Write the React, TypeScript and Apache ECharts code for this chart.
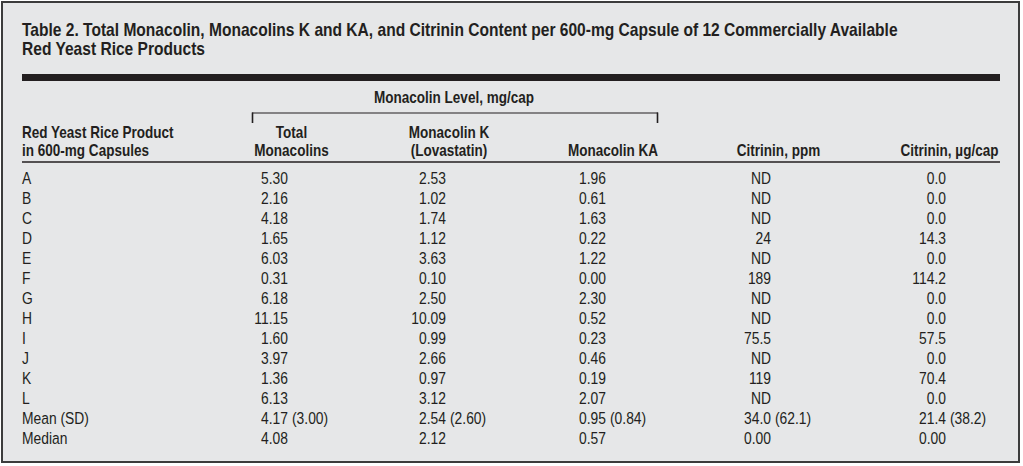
import React, { useEffect, useRef } from "react";
import * as echarts from "echarts";

// ---- data ----
const titleLines = [
  "Table 2. Total Monacolin, Monacolins K and KA, and Citrinin Content per 600-mg Capsule of 12 Commercially Available",
  "Red Yeast Rice Products",
];
const groupHeader = "Monacolin Level, mg/cap";
const firstHeader = ["Red Yeast Rice Product", "in 600-mg Capsules"];
const columnHeaders: string[][] = [
  ["Total", "Monacolins"],
  ["Monacolin K", "(Lovastatin)"],
  ["Monacolin KA"],
  ["Citrinin, ppm"],
  ["Citrinin, \u00b5g/cap"],
];
const products = ["A", "B", "C", "D", "E", "F", "G", "H", "I", "J", "K", "L"];
const totalMonacolins = [5.3, 2.16, 4.18, 1.65, 6.03, 0.31, 6.18, 11.15, 1.6, 3.97, 1.36, 6.13];
const monacolinK = [2.53, 1.02, 1.74, 1.12, 3.63, 0.1, 2.5, 10.09, 0.99, 2.66, 0.97, 3.12];
const monacolinKA = [1.96, 0.61, 1.63, 0.22, 1.22, 0.0, 2.3, 0.52, 0.23, 0.46, 0.19, 2.07];
const citrininPpm: (number | null)[] = [null, null, null, 24, null, 189, null, null, 75.5, null, 119, null];
const citrininUgCap = [0.0, 0.0, 0.0, 14.3, 0.0, 114.2, 0.0, 0.0, 57.5, 0.0, 70.4, 0.0];
const summaryLabels = ["Mean (SD)", "Median"];
const means = ["4.17", "2.54", "0.95", "34.0", "21.4"];
const sds = ["3.00", "2.60", "0.84", "62.1", "38.2"];
const medians = ["4.08", "2.12", "0.57", "0.00", "0.00"];

// ---- layout / style ----
const FONT = "'Liberation Sans', Arial, sans-serif";
const SX_TITLE = 0.865;
const SX_HEAD = 0.82;
const SX_BODY = 0.84;
const INK = "#231f20";
const BG = "#e6e7e8";
const LEFT = 22;
const RIGHT = 1000;
const colRight = [288, 446, 606, 771, 946];
const colCenter = [291.5, 449, 613, 778.5, 949.5];
const rowY0 = 178;
const rowStep = 20;
const bodySize = 16.5;

function txt(x: number, y: number, text: string, align: string, font: string, sx: number) {
  return {
    type: "text",
    x,
    y,
    scaleX: sx,
    style: { text, fill: INK, font, align, verticalAlign: "middle" },
  };
}

function buildGraphics() {
  const els: any[] = [];
  const bold = (s: number) => `bold ${s}px ${FONT}`;
  const reg = `${bodySize}px ${FONT}`;
  els.push({
    type: "rect",
    shape: { x: 2, y: 2, width: 1017, height: 460 },
    style: { fill: BG, stroke: "#3c3c3c", lineWidth: 2 },
  });
  titleLines.forEach((t, i) => els.push(txt(LEFT, 30 + i * 19, t, "left", bold(18), SX_TITLE)));
  els.push({ type: "rect", shape: { x: LEFT, y: 74, width: RIGHT - LEFT, height: 7 }, style: { fill: INK } });
  // group header and bracket
  els.push(txt(454, 96.5, groupHeader, "center", bold(16.5), SX_HEAD));
  els.push({ type: "line", shape: { x1: 252, y1: 113, x2: 658, y2: 113 }, style: { stroke: INK, lineWidth: 1.2 } });
  els.push({ type: "line", shape: { x1: 252.5, y1: 112.5, x2: 252.5, y2: 123 }, style: { stroke: INK, lineWidth: 1.6 } });
  els.push({ type: "line", shape: { x1: 657.5, y1: 112.5, x2: 657.5, y2: 123 }, style: { stroke: INK, lineWidth: 1.6 } });
  // column headers
  firstHeader.forEach((t, i) => els.push(txt(LEFT, 131.5 + i * 18, t, "left", bold(16.5), SX_HEAD)));
  columnHeaders.forEach((lines, c) => {
    const startY = lines.length === 2 ? 131.5 : 149.5;
    lines.forEach((t, i) => els.push(txt(colCenter[c], startY + i * 18, t, "center", bold(16.5), SX_HEAD)));
  });
  els.push({ type: "line", shape: { x1: LEFT, y1: 162, x2: RIGHT, y2: 162 }, style: { stroke: INK, lineWidth: 1.3 } });

  products.forEach((p, r) => {
    const y = rowY0 + r * rowStep;
    els.push(txt(LEFT, y, p, "left", reg, SX_BODY));
    const cells = [
      totalMonacolins[r].toFixed(2),
      monacolinK[r].toFixed(2),
      monacolinKA[r].toFixed(2),
      citrininPpm[r] === null ? "ND" : String(citrininPpm[r]),
      citrininUgCap[r].toFixed(1),
    ];
    cells.forEach((t, c) => els.push(txt(colRight[c], y, t, "right", reg, SX_BODY)));
  });
  const yMean = rowY0 + products.length * rowStep;
  const yMed = yMean + rowStep;
  els.push(txt(LEFT, yMean, summaryLabels[0], "left", reg, SX_BODY));
  els.push(txt(LEFT, yMed, summaryLabels[1], "left", reg, SX_BODY));
  means.forEach((m, c) => {
    els.push(txt(colRight[c], yMean, m, "right", reg, SX_BODY));
    els.push(txt(colRight[c] + 4, yMean, `(${sds[c]})`, "left", reg, SX_BODY));
    els.push(txt(colRight[c], yMed, medians[c], "right", reg, SX_BODY));
  });
  return els;
}

export default function App() {
  const ref = useRef<HTMLDivElement>(null);
  useEffect(() => {
    if (!ref.current) return;
    const chart = echarts.init(ref.current, undefined, { renderer: "svg" });
    chart.setOption({
      animation: false,
      backgroundColor: "#ffffff",
      graphic: { elements: buildGraphics() },
    });
    return () => chart.dispose();
  }, []);
  return (
    <div
      ref={ref}
      style={{ position: "absolute", left: 0, top: 0, width: 1023, height: 466 }}
    />
  );
}
